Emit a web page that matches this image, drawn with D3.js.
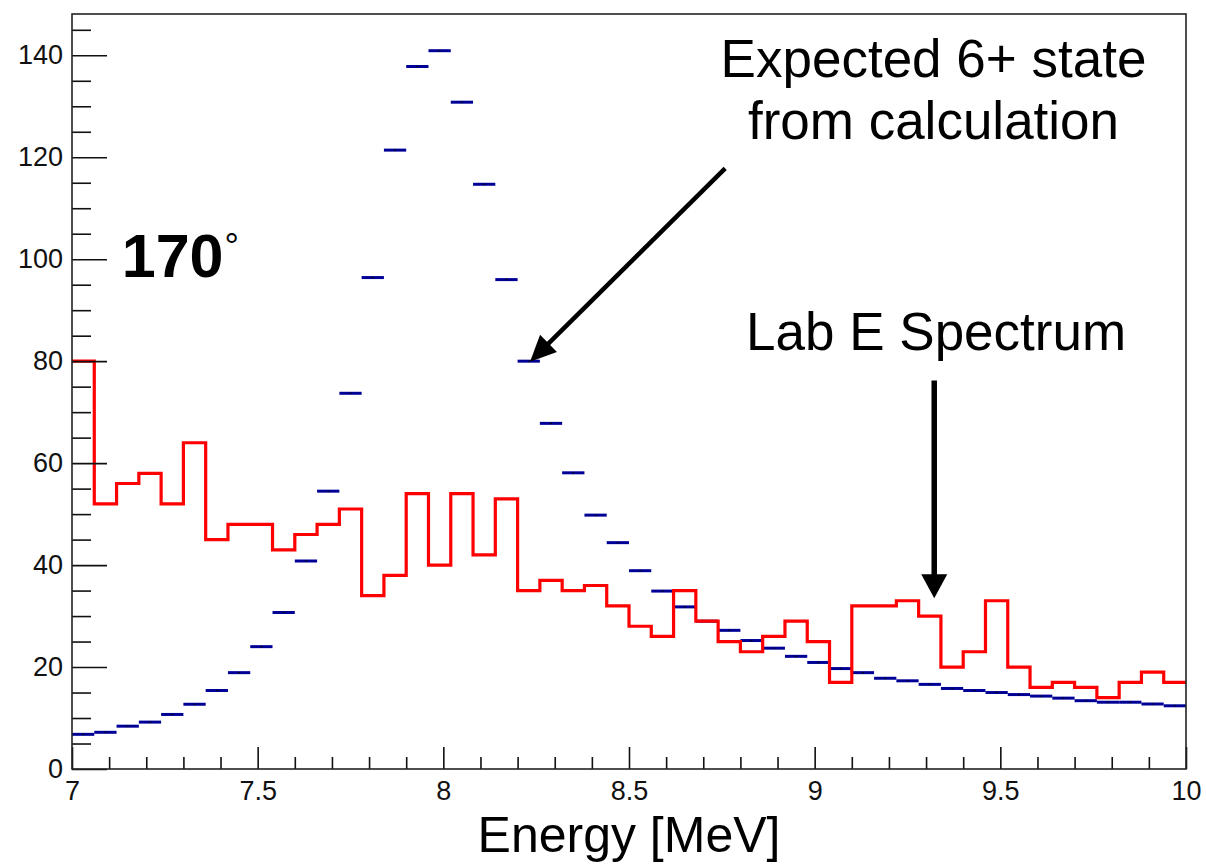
<!DOCTYPE html>
<html>
<head>
<meta charset="utf-8">
<script src="https://cdn.jsdelivr.net/npm/d3@7"></script>
<style>
  body { margin: 0; background: #fff; }
  text { font-family: "Liberation Sans", Arial, Helvetica, sans-serif; }
</style>
</head>
<body>
<div id="chartDiv"></div>
<script>

// 50 bins of 0.06 MeV between 7 and 10 MeV
var binStart = 7.0;
var binWidth = 0.06;

// Lab E spectrum (red histogram)
var labCounts = [80, 52, 56, 58, 52, 64, 45, 48, 48, 43,
                 46, 48, 51, 34, 38, 54, 40, 54, 42, 53,
                 35, 37, 35, 36, 32, 28, 26, 35, 29, 25,
                 23, 26, 29, 25, 17, 32, 32, 33, 30, 20,
                 23, 33, 20, 16, 17, 16, 14, 17, 19, 17];

// expected 6+ state from calculation (blue markers)
var calcCounts = [6.8, 7.2, 8.4, 9.2, 10.7, 12.7, 15.4, 18.9, 24.0, 30.7,
                  40.8, 54.5, 73.7, 96.4, 121.4, 137.8, 140.9, 130.8, 114.7, 96.0,
                  80.0, 67.8, 58.1, 49.8, 44.4, 38.9, 34.9, 31.8, 29.0, 27.2,
                  25.2, 23.7, 22.1, 20.9, 19.7, 18.9, 17.8, 17.3, 16.6, 15.8,
                  15.4, 15.0, 14.6, 14.3, 13.9, 13.4, 13.1, 13.1, 12.75, 12.4];

var xTicks = [7, 7.5, 8, 8.5, 9, 9.5, 10];
var xTickLabels = ["7", "7.5", "8", "8.5", "9", "9.5", "10"];
var yTicks = [0, 20, 40, 60, 80, 100, 120, 140];
var yTickLabels = ["0", "20", "40", "60", "80", "100", "120", "140"];

var xTitle = "Energy [MeV]";

var svg = d3.select("#chartDiv").append("svg")
    .attr("width", 1206)
    .attr("height", 864);

svg.append("rect")
    .attr("width", 1206)
    .attr("height", 864)
    .attr("fill", "white");

var frame = {left: 72, right: 1186, top: 14, bottom: 769};

var x = d3.scaleLinear()
    .domain([7, 10])
    .range([frame.left, frame.right]);

var y = d3.scaleLinear()
    .domain([0, 148.1])
    .range([frame.bottom, frame.top]);

// minor tick positions (every 0.1 on x, every 5 on y)
var xMinor = d3.range(71, 100).map(function(d){ return d / 10; })
    .filter(function(d){ return Math.abs(d * 2 - Math.round(d * 2)) > 1e-6; });
var yMinor = d3.range(5, 148, 5).filter(function(d){ return d % 20 != 0; });

// blue calculation markers
var calcG = svg.append("g").attr("class", "calc");

calcG.selectAll(".calc_bar").data(calcCounts).enter()
    .append("line").attr("class", "calc_bar")
    .attr("x1", function(d, i){ return x(binStart + i * binWidth); })
    .attr("x2", function(d, i){ return x(binStart + (i + 1) * binWidth); })
    .attr("y1", function(d){ return y(d); })
    .attr("y2", function(d){ return y(d); })
    .style("stroke", "#000096")
    .style("stroke-width", 3);

calcG.selectAll(".calc_dot").data(calcCounts).enter()
    .append("rect").attr("class", "calc_dot")
    .attr("x", function(d, i){ return x(binStart + (i + 0.5) * binWidth) - 1; })
    .attr("y", function(d){ return y(d) - 0.5; })
    .attr("width", 2)
    .attr("height", 1)
    .attr("fill", "black");

// red lab histogram
var labPoints = labCounts.map(function(v, i){ return {e: binStart + i * binWidth, v: v}; });
labPoints.push({e: binStart + labCounts.length * binWidth, v: labCounts[labCounts.length - 1]});

var stepLine = d3.line()
    .x(function(d){ return x(d.e); })
    .y(function(d){ return y(d.v); })
    .curve(d3.curveStepAfter);

svg.append("path")
    .datum(labPoints)
    .attr("d", stepLine)
    .attr("fill", "none")
    .style("stroke", "#ff0000")
    .style("stroke-width", 3.2)
    .style("stroke-linejoin", "miter");

// axes
var yAxis = d3.axisLeft(y)
    .tickValues(yTicks)
    .tickFormat(function(d, i){ return yTickLabels[i]; })
    .tickSizeInner(-35)
    .tickSizeOuter(0)
    .tickPadding(9);

var yAxisMinor = d3.axisLeft(y)
    .tickValues(yMinor)
    .tickFormat("")
    .tickSizeInner(-19)
    .tickSizeOuter(0);

var xAxis = d3.axisBottom(x)
    .tickValues(xTicks)
    .tickFormat(function(d, i){ return xTickLabels[i]; })
    .tickSizeInner(-22)
    .tickSizeOuter(0)
    .tickPadding(12);

var xAxisMinor = d3.axisBottom(x)
    .tickValues(xMinor)
    .tickFormat("")
    .tickSizeInner(-12)
    .tickSizeOuter(0);

var axisG = [
  svg.append("g").attr("transform", "translate(" + frame.left + ",0)").call(yAxis),
  svg.append("g").attr("transform", "translate(" + frame.left + ",0)").call(yAxisMinor),
  svg.append("g").attr("transform", "translate(0," + frame.bottom + ")").call(xAxis),
  svg.append("g").attr("transform", "translate(0," + frame.bottom + ")").call(xAxisMinor)
];

axisG.forEach(function(g){
  g.select(".domain").remove();
  g.selectAll("line").style("stroke", "#111").style("stroke-width", 1.6);
  g.selectAll("text")
      .attr("font-family", "'Liberation Sans', Arial, sans-serif")
      .attr("font-size", 27)
      .attr("fill", "#111");
});

// frame
svg.append("rect")
    .attr("x", frame.left)
    .attr("y", frame.top)
    .attr("width", frame.right - frame.left)
    .attr("height", frame.bottom - frame.top)
    .attr("fill", "none")
    .style("stroke", "#222")
    .style("stroke-width", 1.6);

svg.append("text")
    .text(xTitle)
    .attr("x", (frame.left + frame.right) / 2)
    .attr("y", 852)
    .attr("text-anchor", "middle")
    .attr("font-size", 50)
    .attr("fill", "black");

// annotations (positions in data units)
var angleLabel = svg.append("text")
    .attr("x", x(7.134))
    .attr("y", y(96.6))
    .attr("font-size", 61)
    .attr("font-weight", "bold")
    .attr("fill", "black");
angleLabel.append("tspan").text("170");
angleLabel.append("tspan").text("°")
    .attr("font-weight", "normal")
    .attr("font-size", 36)
    .attr("dx", 1)
    .attr("dy", -18);

svg.append("text")
    .text("Expected 6+ state")
    .attr("x", x(9.32))
    .attr("y", y(135.8))
    .attr("text-anchor", "middle")
    .attr("font-size", 53);

svg.append("text")
    .text("from calculation")
    .attr("x", x(9.32))
    .attr("y", y(123.6))
    .attr("text-anchor", "middle")
    .attr("font-size", 53);

svg.append("text")
    .text("Lab E Spectrum")
    .attr("x", x(9.327))
    .attr("y", y(82.2))
    .attr("text-anchor", "middle")
    .attr("font-size", 53);

function drawArrow(x1, y1, x2, y2, lw, headLen, headW) {
  var dx = x2 - x1, dy = y2 - y1;
  var len = Math.sqrt(dx * dx + dy * dy);
  var ux = dx / len, uy = dy / len;
  var bx = x2 - ux * headLen, by = y2 - uy * headLen;
  svg.append("line")
      .attr("x1", x1).attr("y1", y1)
      .attr("x2", bx + ux * 2).attr("y2", by + uy * 2)
      .style("stroke", "black")
      .style("stroke-width", lw);
  svg.append("path")
      .attr("d", "M" + x2 + "," + y2 +
                 "L" + (bx - uy * headW / 2) + "," + (by + ux * headW / 2) +
                 "L" + (bx + uy * headW / 2) + "," + (by - ux * headW / 2) + "Z")
      .attr("fill", "black");
}

drawArrow(x(8.759), y(117.8), x(8.2335), y(79.9), 4.5, 26, 24);
drawArrow(x(9.322), y(76.2), x(9.322), y(33.5), 5.5, 24, 26);

</script>
</body>
</html>
